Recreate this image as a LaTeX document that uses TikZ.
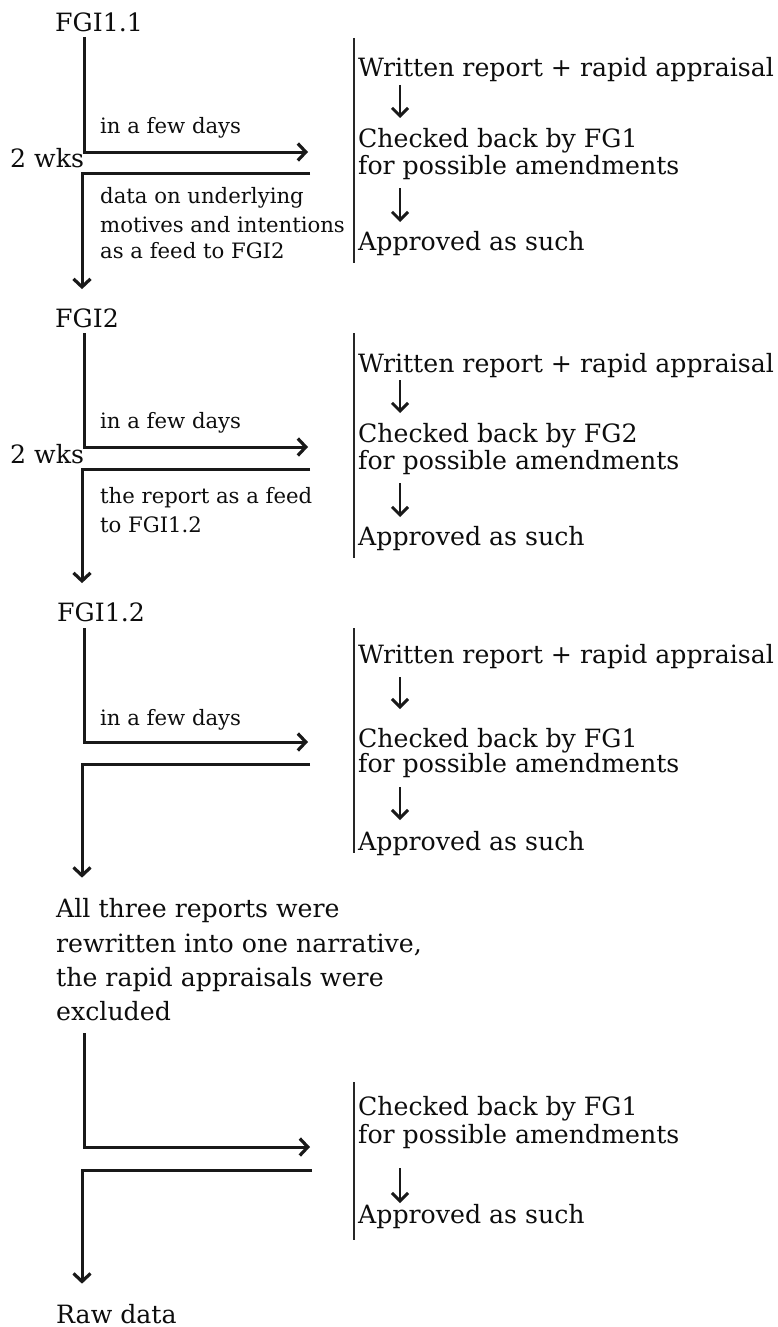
\documentclass[tikz,border=0pt]{standalone}
\usepackage{fontspec}
\setmainfont{DejaVu Serif}
\usetikzlibrary{arrows.meta}
\begin{document}
\begin{tikzpicture}[x=1pt,y=-1pt,
  big/.style={font=\fontsize{25.2}{30}\selectfont, anchor=base west, inner sep=0pt, text=black!95},
  small/.style={font=\fontsize{21.2}{25}\selectfont, anchor=base west, inner sep=0pt, text=black!95},
  flow/.style={draw=black!90, line width=3pt, -{Straight Barb[length=8pt,width=17pt,line width=3.2pt]}},
  bar/.style={draw=black!85, line width=2.2pt},
  sarrow/.style={draw=black!90, line width=2.6pt, -{Straight Barb[length=8pt,width=16pt,line width=3pt]}}]
\useasboundingbox (0,0) rectangle (777,1327);

% ---------- Block 1 ----------
\node[big] (t1) at (55,32) {FGI1.1};
\node[small] (d1) at (100,133) {in a few days};
\node[big] (w1) at (10,167) {2 wks};
\node[small] (f1a) at (100,203) {data on underlying};
\node[small] (f1b) at (100,232) {motives and intentions};
\node[small] (f1c) at (100,258) {as a feed to FGI2};
\coordinate (a1) at (84,37);
\coordinate (c1) at (84,152);
\coordinate (e1) at (308,152);
\coordinate (g1) at (310,173);
\coordinate (h1) at (82,173);
\draw[flow] (a1) -- (c1) -- (e1);
\node[big] (t2) at (55,327) {FGI2};
\draw[flow] (g1) -- (h1) -- ([yshift=19pt]t2.north -| h1);
\coordinate (b1top) at (354,38);
\coordinate (b1bot) at (354,263);
\draw[bar] (b1top) -- (b1bot);
\node[big] (r1a) at (358,77) {Written report + rapid appraisal};
\node[big] (r1b) at (358,147) {Checked back by FG1};
\node[big] (r1c) at (358,174) {for possible amendments};
\node[big] (r1d) at (358,250) {Approved as such};
\draw[sarrow] (400,85) coordinate (s1a) -- (400,118) coordinate (s1b);
\draw[sarrow] (400,188) coordinate (s1c) -- (400,222) coordinate (s1d);

% ---------- Block 2 ----------
\node[small] (d2) at (100,428) {in a few days};
\node[big] (w2) at (10,463) {2 wks};
\node[small] (f2a) at (100,503) {the report as a feed};
\node[small] (f2b) at (100,532) {to FGI1.2};
\coordinate (a2) at (84,333);
\coordinate (c2) at (84,447);
\coordinate (e2) at (308,447);
\coordinate (g2) at (310,469);
\coordinate (h2) at (82,469);
\draw[flow] (a2) -- (c2) -- (e2);
\node[big] (t3) at (57,621) {FGI1.2};
\draw[flow] (g2) -- (h2) -- ([yshift=19pt]t3.north -| h2);
\coordinate (b2top) at (354,333);
\coordinate (b2bot) at (354,558);
\draw[bar] (b2top) -- (b2bot);
\node[big] (r2a) at (358,372) {Written report + rapid appraisal};
\node[big] (r2b) at (358,442) {Checked back by FG2};
\node[big] (r2c) at (358,469) {for possible amendments};
\node[big] (r2d) at (358,545) {Approved as such};
\draw[sarrow] (400,380) coordinate (s2a) -- (400,413) coordinate (s2b);
\draw[sarrow] (400,483) coordinate (s2c) -- (400,517) coordinate (s2d);

% ---------- Block 3 ----------
\node[small] (d3) at (100,725) {in a few days};
\coordinate (a3) at (84,628);
\coordinate (c3) at (84,742);
\coordinate (e3) at (308,742);
\coordinate (g3) at (310,764);
\coordinate (h3) at (82,764);
\draw[flow] (a3) -- (c3) -- (e3);
\node[big] (p1) at (56,917) {All three reports were};
\node[big] (p2) at (56,952) {rewritten into one narrative,};
\node[big] (p3) at (56,986) {the rapid appraisals were};
\node[big] (p4) at (56,1020) {excluded};
\draw[flow] (g3) -- (h3) -- ([yshift=20pt]p1.north -| h3);
\coordinate (b3top) at (354,628);
\coordinate (b3bot) at (354,853);
\draw[bar] (b3top) -- (b3bot);
\node[big] (r3a) at (358,663) {Written report + rapid appraisal};
\node[big] (r3b) at (358,747) {Checked back by FG1};
\node[big] (r3c) at (358,772) {for possible amendments};
\node[big] (r3d) at (358,850) {Approved as such};
\draw[sarrow] (400,677) coordinate (s3a) -- (400,709) coordinate (s3b);
\draw[sarrow] (400,787) coordinate (s3c) -- (400,820) coordinate (s3d);

% ---------- Block 4 ----------
\coordinate (a4) at (84,1033);
\coordinate (c4) at (84,1147);
\coordinate (e4) at (310,1147);
\coordinate (g4) at (312,1170);
\coordinate (h4) at (82,1170);
\draw[flow] (a4) -- (c4) -- (e4);
\node[big] (raw) at (56,1323) {Raw data};
\draw[flow] (g4) -- (h4) -- ([yshift=20pt]raw.north -| h4);
\coordinate (b4top) at (354,1082);
\coordinate (b4bot) at (354,1240);
\draw[bar] (b4top) -- (b4bot);
\node[big] (r4b) at (358,1115) {Checked back by FG1};
\node[big] (r4c) at (358,1143) {for possible amendments};
\node[big] (r4d) at (358,1223) {Approved as such};
\draw[sarrow] (400,1168) coordinate (s4a) -- (400,1203) coordinate (s4b);
\end{tikzpicture}
\end{document}
